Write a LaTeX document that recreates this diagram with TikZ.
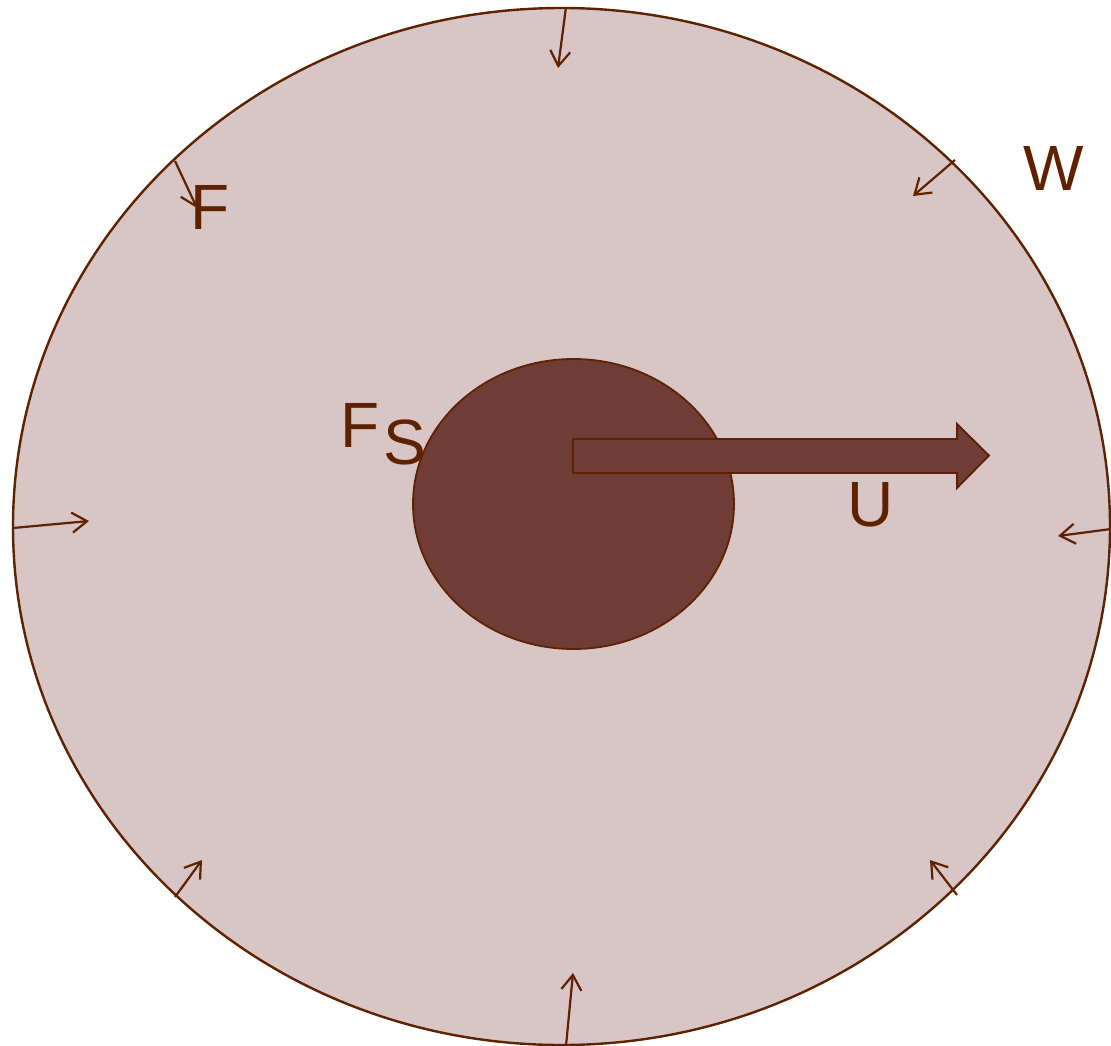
\documentclass[tikz,border=0pt]{standalone}
\usepackage{fontspec}
\setmainfont{Liberation Sans}
\usetikzlibrary{shapes.geometric,arrows.meta}
\definecolor{edgebrown}{RGB}{94,34,0}
\definecolor{discfill}{RGB}{112,60,54}
\definecolor{fieldfill}{RGB}{216,198,198}
\tikzset{
  force/.style={draw=edgebrown, line width=2.2pt, -{Straight Barb[length=15pt,width=20pt,line width=2.2pt]}},
  lbl/.style={text=edgebrown, font=\fontsize{64}{64}\selectfont, inner sep=0pt, anchor=center}
}
\begin{document}
\begin{tikzpicture}[x=1pt,y=-1pt]
\useasboundingbox (0,0) rectangle (1111,1046);
\node[ellipse, draw=edgebrown, line width=2.4pt, fill=fieldfill, minimum width=1097pt, minimum height=1037pt, inner sep=0pt] (field) at (561.5,526.5) {};
\node[ellipse, draw=edgebrown, line width=1.8pt, fill=discfill, minimum width=321pt, minimum height=290pt, inner sep=0pt] (disc) at (573.5,504) {};
% velocity arrow
\coordinate (ua) at (573,439);
\draw[draw=edgebrown, line width=1.8pt, fill=discfill, line join=miter]
  (ua) -- (957,439) -- (957,424) -- (989,455.5) -- (957,488) -- (957,473) -- (573,473) -- cycle;
% force arrows
\coordinate (t0) at (566,7);   \coordinate (t1) at (558,68);
\coordinate (ul0) at (175,161); \coordinate (ul1) at (197,208);
\coordinate (ur0) at (955,160); \coordinate (ur1) at (913,196);
\coordinate (l0) at (13,528);  \coordinate (l1) at (89,521);
\coordinate (r0) at (1111,529); \coordinate (r1) at (1058,536);
\coordinate (ll0) at (175,897); \coordinate (ll1) at (202,860);
\coordinate (lr0) at (957,895); \coordinate (lr1) at (930,860);
\coordinate (b0) at (566,1046); \coordinate (b1) at (573,973);
\foreach \a/\b in {t0/t1,ul0/ul1,ur0/ur1,l0/l1,r0/r1,ll0/ll1,lr0/lr1,b0/b1}
  \draw[force] (\a) -- (\b);
% labels
\node[lbl] (lF) at (210,207) {F};
\node[lbl] (lW) at (1054,168) {W};
\node[lbl] (lFs1) at (360,425) {F};
\node[lbl] (lFs2) at (405,442) {S};
\node[lbl] (lU) at (871,505) {U};
\end{tikzpicture}
\end{document}
